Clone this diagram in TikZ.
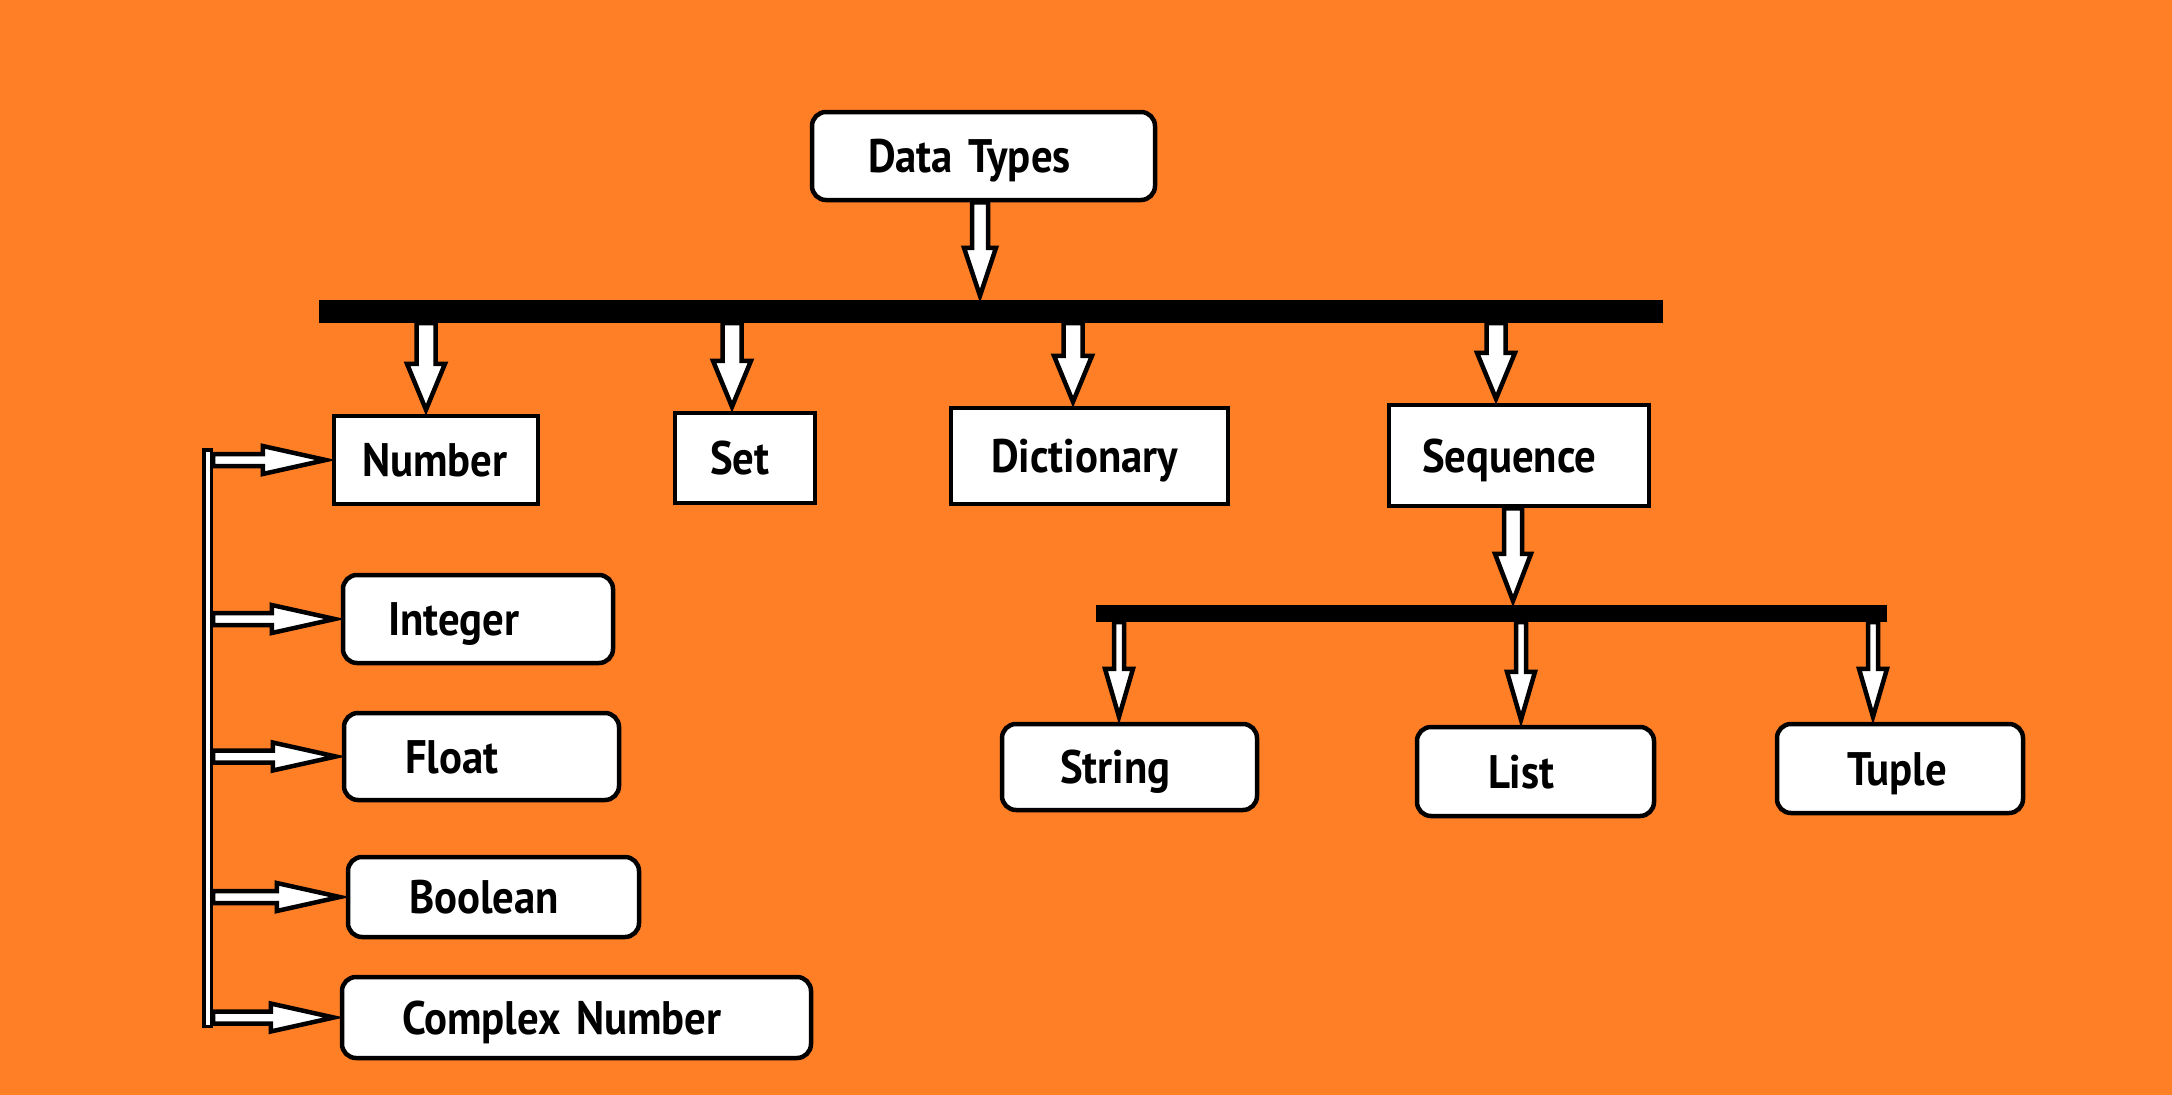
\documentclass[tikz,border=0pt]{standalone}
\usepackage{fontspec}
\newfontfamily\lblfont{PT Sans}[FakeStretch=0.91]
\usetikzlibrary{calc}
\definecolor{paintorange}{RGB}{255,127,39}
\newcommand\downarr[6]{% from, to, shaft half, head half, head length, tip backoff
  \path[blockarrow] let \p1=(#1), \p2=(#2) in
    (\x1-#3pt,\y1) -- (\x1-#3pt,\y2+#5pt+#6pt) -- (\x1-#4pt,\y2+#5pt+#6pt) -- (\x1,\y2+#6pt)
    -- (\x1+#4pt,\y2+#5pt+#6pt) -- (\x1+#3pt,\y2+#5pt+#6pt) -- (\x1+#3pt,\y1) -- cycle;}
\newcommand\rightarr[6]{%
  \path[blockarrow] let \p1=(#1), \p2=(#2) in
    (\x1,\y1+#3pt) -- (\x2-#5pt-#6pt,\y1+#3pt) -- (\x2-#5pt-#6pt,\y1+#4pt) -- (\x2-#6pt,\y1)
    -- (\x2-#5pt-#6pt,\y1-#4pt) -- (\x2-#5pt-#6pt,\y1-#3pt) -- (\x1,\y1-#3pt) -- cycle;}
\tikzset{
  boxsq/.style={draw=black, fill=white, line width=4.5pt, inner sep=0pt, align=left,
    text height=33pt, text depth=0pt,
    font=\lblfont\bfseries\fontsize{47}{50}\selectfont},
  boxrd/.style={boxsq, rounded corners=14pt},
  barnode/.style={fill=black, inner sep=0pt},
  blockarrow/.style={draw=black, fill=white, line width=4.5pt, line join=miter},
}
\begin{document}
\begin{tikzpicture}[x=1pt, y=-1pt]
\fill[paintorange] (0,0) rectangle (2172,1095);
\useasboundingbox (0,0) rectangle (2172,1095);

% boxes
\node[boxrd, text width=343pt, minimum height=88pt] (dt) at (983.5,156) {\hspace*{56pt}Data Types};
\node[boxsq, text width=204pt, minimum height=88pt] (number) at (436,460) {\hspace*{28pt}Number};
\node[boxsq, text width=140pt, minimum height=90pt] (set) at (745,458) {\hspace*{35pt}Set};
\node[boxsq, text width=277pt, minimum height=96pt] (dict) at (1089.5,456) {\hspace*{40pt}Dictionary};
\node[boxsq, text width=260pt, minimum height=101pt] (seq) at (1519,455.5) {\hspace*{33pt}Sequence};
\node[boxrd, text width=270pt, minimum height=88pt] (int) at (478,619) {\hspace*{45pt}Integer};
\node[boxrd, text width=275pt, minimum height=87pt] (float) at (481.5,756.5) {\hspace*{61pt}Float};
\node[boxrd, text width=291pt, minimum height=80pt] (bool) at (493.5,897) {\hspace*{61pt}Boolean};
\node[boxrd, text width=469pt, minimum height=81pt] (cplx) at (576.5,1017.5) {\hspace*{60pt}Complex Number};
\node[boxrd, text width=255pt, minimum height=86pt] (str) at (1129.5,767) {\hspace*{58pt}String};
\node[boxrd, text width=237pt, minimum height=89pt] (list) at (1535.5,771.5) {\hspace*{71pt}List};
\node[boxrd, text width=246pt, minimum height=89pt] (tuple) at (1900,768.5) {\hspace*{70pt}Tuple};

% bars
\node[barnode, minimum width=1344pt, minimum height=23pt] (bar) at (991,311.5) {};
\node[barnode, minimum width=791pt, minimum height=17pt] (subbar) at (1491.5,613.5) {};
\node[draw=black, fill=white, line width=3.5pt, inner sep=0pt, minimum width=7.5pt, minimum height=576.5pt] (vl) at (207.5,738) {};

% arrow x positions
\coordinate (xdt) at (980,0);
\coordinate (xnum) at (426,0);
\coordinate (xset) at (732,0);
\coordinate (xdict) at (1073,0);
\coordinate (xseq) at (1496,0);
\coordinate (xsub) at (1513,0);
\coordinate (xstr) at (1119,0);
\coordinate (xlist) at (1521,0);
\coordinate (xtup) at (1873,0);

% arrows
\downarr{xdt |- dt.south}{xdt |- bar.north}{8}{16}{48}{4}
\downarr{xnum |- bar.south}{xnum |- number.north}{9.5}{19}{46}{4}
\downarr{xset |- bar.south}{xset |- set.north}{9.5}{19}{46}{4}
\downarr{xdict |- bar.south}{xdict |- dict.north}{9.5}{19}{46}{4}
\downarr{xseq |- bar.south}{xseq |- seq.north}{9.5}{19}{46}{4}
\downarr{xsub |- seq.south}{xsub |- subbar.north}{9}{18}{47}{4}
\downarr{xstr |- subbar.south}{xstr |- str.north}{5}{14}{48}{5}
\downarr{xlist |- subbar.south}{xlist |- list.north}{5}{14}{48}{5}
\downarr{xtup |- subbar.south}{xtup |- tuple.north}{5}{14}{48}{5}

\rightarr{vl.east |- number.west}{number.west}{6}{14}{63}{6}
\rightarr{vl.east |- int.west}{int.west}{6}{14}{63}{6}
\rightarr{vl.east |- float.west}{float.west}{6}{14}{63}{6}
\rightarr{vl.east |- bool.west}{bool.west}{6}{14}{63}{6}
\rightarr{vl.east |- cplx.west}{cplx.west}{6}{14}{63}{6}
\end{tikzpicture}
\end{document}
